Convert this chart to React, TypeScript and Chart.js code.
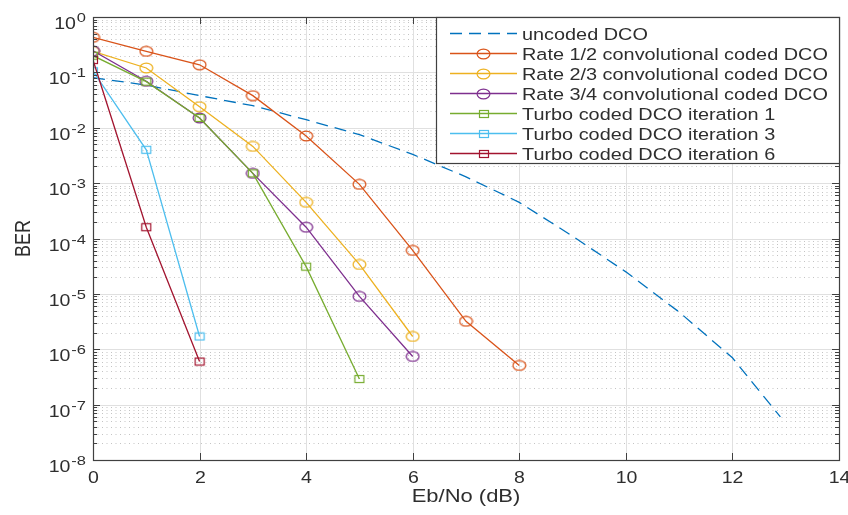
import React, { useEffect, useRef } from "react";
import { Chart, registerables } from "chart.js";

Chart.register(...registerables);

// ---------- data ----------
const xTickValues = [0, 2, 4, 6, 8, 10, 12, 14];
const yExponents = [0, -1, -2, -3, -4, -5, -6, -7, -8];
const minorSignificands = [2, 3, 4, 5, 6, 7, 8, 9];

const seriesLabels = [
  "uncoded DCO",
  "Rate 1/2 convolutional coded DCO",
  "Rate 2/3 convolutional coded DCO",
  "Rate 3/4 convolutional coded DCO",
  "Turbo coded DCO iteration 1",
  "Turbo coded DCO iteration 3",
  "Turbo coded DCO iteration 6",
];

const ebnoUncoded = [0, 1, 2, 3, 4, 5, 6, 7, 8, 9, 10, 11, 12, 12.9];
const berUncoded = [0.08, 0.059, 0.038, 0.025, 0.014, 0.0075, 0.0033, 0.0013, 4.5e-4, 1.1e-4, 2.5e-5, 4.7e-6, 7e-7, 6e-8];

const ebnoRate12 = [0, 1, 2, 3, 4, 5, 6, 7, 8];
const berRate12 = [0.43, 0.24, 0.137, 0.038, 0.0071, 9.5e-4, 6.1e-5, 3.2e-6, 5.1e-7];

const ebnoRate23 = [0, 1, 2, 3, 4, 5, 6];
const berRate23 = [0.24, 0.12, 0.024, 0.0046, 4.5e-4, 3.4e-5, 1.7e-6];

const ebnoRate34 = [0, 1, 2, 3, 4, 5, 6];
const berRate34 = [0.245, 0.069, 0.015, 1.5e-3, 1.6e-4, 9e-6, 7.4e-7];

const ebnoTurbo1 = [0, 1, 2, 3, 4, 5];
const berTurbo1 = [0.2, 0.068, 0.015, 1.5e-3, 3.1e-5, 2.9e-7];

const ebnoTurbo3 = [0, 1, 2];
const berTurbo3 = [0.105, 0.004, 1.7e-6];

const ebnoTurbo6 = [0, 1, 2];
const berTurbo6 = [0.167, 1.6e-4, 6e-7];

const seriesX = [ebnoUncoded, ebnoRate12, ebnoRate23, ebnoRate34, ebnoTurbo1, ebnoTurbo3, ebnoTurbo6];
const seriesY = [berUncoded, berRate12, berRate23, berRate34, berTurbo1, berTurbo3, berTurbo6];

// ---------- styles ----------
const seriesColors = ["#0072BD", "#D95319", "#EDB120", "#7E2F8E", "#77AC30", "#4DBEEE", "#A2142F"];
const seriesMarkers = ["none", "circle", "circle", "circle", "square", "square", "square"];

const FONT = "'Liberation Sans', Arial, Helvetica, sans-serif";
const SX = 1.22; // horizontal stretch of the reference picture
const TEXT_COLOR = "#2e2e2e";

function makeMarker(shape: string, color: string): HTMLCanvasElement | null {
  if (shape === "none") return null;
  const c = document.createElement("canvas");
  if (shape === "circle") {
    c.width = 15;
    c.height = 12;
    const g = c.getContext("2d")!;
    g.strokeStyle = color;
    g.lineWidth = 1.2;
    g.beginPath();
    g.ellipse(7.5, 6, 6.4, 4.9, 0, 0, Math.PI * 2);
    g.stroke();
  } else {
    c.width = 12;
    c.height = 10;
    const g = c.getContext("2d")!;
    g.strokeStyle = color;
    g.lineWidth = 1.2;
    g.strokeRect(1.5, 1.5, 9, 7);
  }
  return c;
}

function stretchText(ctx: CanvasRenderingContext2D, text: string, x: number, y: number, font: string, align: CanvasTextAlign) {
  ctx.save();
  ctx.font = font;
  ctx.fillStyle = TEXT_COLOR;
  ctx.translate(x, y);
  ctx.scale(SX, 1);
  ctx.textAlign = align;
  ctx.textBaseline = "alphabetic";
  ctx.fillText(text, 0, 0);
  ctx.restore();
}

function textWidth(ctx: CanvasRenderingContext2D, text: string, font: string) {
  ctx.save();
  ctx.font = font;
  const w = ctx.measureText(text).width * SX;
  ctx.restore();
  return w;
}

export default function App() {
  const canvasRef = useRef<HTMLCanvasElement | null>(null);

  useEffect(() => {
    const canvas = canvasRef.current;
    if (!canvas) return;

    const markers = seriesColors.map((c, i) => makeMarker(seriesMarkers[i], c));

    const datasets = seriesLabels.map((label, i) => ({
      label,
      data: seriesX[i].map((x, j) => ({ x, y: seriesY[i][j] })),
      borderColor: seriesColors[i],
      backgroundColor: seriesColors[i],
      borderWidth: 1.3,
      borderDash: i === 0 ? [12, 7] : [],
      pointStyle: markers[i] ?? "circle",
      pointRadius: markers[i] ? 5 : 0,
      pointHoverRadius: markers[i] ? 5 : 0,
      tension: 0,
      fill: false,
      order: -i,
    }));

    const gridPlugin = {
      id: "matlabGrid",
      beforeDatasetsDraw(chart: any) {
        const { ctx, chartArea } = chart;
        const { left, right, top, bottom } = chartArea;
        const xs = chart.scales.x;
        const ys = chart.scales.y;
        ctx.save();
        ctx.strokeStyle = "#c4c4c4";
        ctx.lineWidth = 1;
        ctx.setLineDash([1, 3.5]);
        yExponents.forEach((e) => {
          if (e === yExponents[0]) return;
          minorSignificands.forEach((k) => {
            const yy = Math.round(ys.getPixelForValue(k * Math.pow(10, e))) + 0.5;
            ctx.beginPath();
            ctx.moveTo(left, yy);
            ctx.lineTo(right, yy);
            ctx.stroke();
          });
        });
        ctx.setLineDash([]);
        ctx.strokeStyle = "#e0e0e0";
        xTickValues.forEach((v) => {
          const xx = Math.round(xs.getPixelForValue(v)) + 0.5;
          ctx.beginPath();
          ctx.moveTo(xx, top);
          ctx.lineTo(xx, bottom);
          ctx.stroke();
        });
        yExponents.forEach((e) => {
          const yy = Math.round(ys.getPixelForValue(Math.pow(10, e))) + 0.5;
          ctx.beginPath();
          ctx.moveTo(left, yy);
          ctx.lineTo(right, yy);
          ctx.stroke();
        });
        ctx.restore();
      },
      afterDraw(chart: any) {
        const { ctx, chartArea } = chart;
        const { left, right, top, bottom } = chartArea;
        const xs = chart.scales.x;
        const ys = chart.scales.y;
        ctx.save();
        ctx.strokeStyle = "#404040";
        ctx.lineWidth = 1.2;
        ctx.setLineDash([]);
        ctx.strokeRect(Math.round(left) + 0.5, Math.round(top) + 0.5, Math.round(right - left), Math.round(bottom - top));
        ctx.lineWidth = 1;
        xTickValues.forEach((v) => {
          const xx = Math.round(xs.getPixelForValue(v)) + 0.5;
          ctx.beginPath();
          ctx.moveTo(xx, bottom);
          ctx.lineTo(xx, bottom - 7);
          ctx.moveTo(xx, top);
          ctx.lineTo(xx, top + 7);
          ctx.stroke();
          stretchText(ctx, String(v), xx, bottom + 23, `16px ${FONT}`, "center");
        });
        yExponents.forEach((e) => {
          const yy = Math.round(ys.getPixelForValue(Math.pow(10, e))) + 0.5;
          ctx.beginPath();
          ctx.moveTo(left, yy);
          ctx.lineTo(left + 7, yy);
          ctx.moveTo(right, yy);
          ctx.lineTo(right - 7, yy);
          ctx.stroke();
          if (e !== yExponents[0]) {
            minorSignificands.forEach((k) => {
              const ym = Math.round(ys.getPixelForValue(k * Math.pow(10, e))) + 0.5;
              ctx.beginPath();
              ctx.moveTo(left, ym);
              ctx.lineTo(left + 4, ym);
              ctx.moveTo(right, ym);
              ctx.lineTo(right - 4, ym);
              ctx.stroke();
            });
          }
          const sup = String(e);
          const supFont = `13.5px ${FONT}`;
          const baseFont = `16px ${FONT}`;
          const supW = textWidth(ctx, sup, supFont);
          const baseW = textWidth(ctx, "10", baseFont);
          const rx = left - 7;
          stretchText(ctx, sup, rx - supW, yy + 4, supFont, "left");
          stretchText(ctx, "10", rx - supW - 1 - baseW, yy + 11, baseFont, "left");
        });
        stretchText(ctx, "Eb/No (dB)", (left + right) / 2, 502, `18px ${FONT}`, "center");
        ctx.save();
        ctx.font = `18px ${FONT}`;
        ctx.fillStyle = TEXT_COLOR;
        ctx.translate(30, (top + bottom) / 2);
        ctx.rotate(-Math.PI / 2);
        ctx.scale(1, SX);
        ctx.textAlign = "center";
        ctx.textBaseline = "alphabetic";
        ctx.fillText("BER", 0, 0);
        ctx.restore();

        // legend
        const lx = 436.5;
        const ly = Math.round(top) + 0.5;
        const lw = Math.round(right) - 436;
        const lh = 146;
        ctx.fillStyle = "#ffffff";
        ctx.fillRect(lx, ly, lw, lh);
        ctx.strokeStyle = "#404040";
        ctx.lineWidth = 1.2;
        ctx.strokeRect(lx, ly, lw, lh);
        seriesLabels.forEach((label, i) => {
          const yy = ly + 16 + i * 20;
          ctx.save();
          ctx.strokeStyle = seriesColors[i];
          ctx.lineWidth = 1.3;
          ctx.setLineDash(i === 0 ? [12, 7] : []);
          ctx.beginPath();
          ctx.moveTo(450, yy);
          ctx.lineTo(517, yy);
          ctx.stroke();
          ctx.restore();
          const m = markers[i];
          if (m) ctx.drawImage(m, Math.round(483.5 - m.width / 2), Math.round(yy - m.height / 2));
          stretchText(ctx, label, 522, yy + 6, `16.3px ${FONT}`, "left");
        });
        ctx.restore();
      },
    };

    const chart = new Chart(canvas, {
      type: "line",
      data: { datasets: datasets as any },
      options: {
        animation: false,
        responsive: false,
        devicePixelRatio: 1,
        events: [],
        layout: { padding: { left: 93, right: 9, top: 17, bottom: 55 } },
        plugins: { legend: { display: false }, tooltip: { enabled: false } },
        scales: {
          x: { type: "linear", min: 0, max: 14, display: false },
          y: { type: "logarithmic", min: 1e-8, max: 1, display: false },
        },
      },
      plugins: [gridPlugin],
    });

    return () => chart.destroy();
  }, []);

  return (
    <div style={{ position: "absolute", left: 0, top: 0, width: 848, height: 515, background: "#ffffff" }}>
      <canvas ref={canvasRef} width={848} height={515} style={{ display: "block" }} />
    </div>
  );
}
